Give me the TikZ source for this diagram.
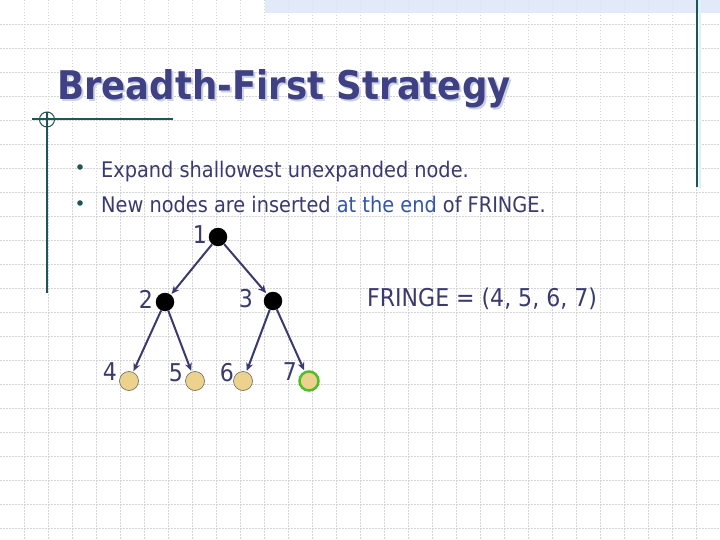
\documentclass[tikz,border=0pt]{standalone}
\usepackage{fontspec}
\setmainfont{DejaVu Sans Condensed}
\usetikzlibrary{arrows.meta}
\definecolor{navy}{RGB}{58,58,110}
\definecolor{titlec}{RGB}{64,64,132}
\definecolor{teal}{RGB}{30,85,85}
\definecolor{bluet}{RGB}{51,85,170}
\definecolor{leaf}{RGB}{236,210,140}
\definecolor{gridc}{RGB}{212,212,212}
\definecolor{band}{RGB}{221,230,248}
\begin{document}
\begin{tikzpicture}[x=1pt,y=-1pt,
  inner/.style={circle,fill=black,inner sep=0pt,minimum size=18.5pt},
  leafn/.style={circle,fill=leaf,draw=black!60,line width=0.6pt,inner sep=0pt,minimum size=19pt},
  goal/.style={leafn,draw={rgb,255:red,80;green,190;blue,40},line width=2.5pt},
  edge/.style={draw=navy,line width=2pt,-{Stealth[length=8pt,width=7pt]},shorten >=1pt},
  num/.style={text=navy,font=\fontsize{24.5}{28}\selectfont,inner sep=0pt},
  body/.style={text=navy,font=\fontsize{21.5}{25}\selectfont,inner sep=0pt,anchor=base west}]
\useasboundingbox (0,0) rectangle (720,540);
\fill[white] (0,0) rectangle (720,540);
% grid
\foreach \i in {1,...,29} {\draw[gridc,line width=0.8pt,dash pattern=on 1.5pt off 1.5pt] (24*\i,0) -- (24*\i,540);}
\foreach \j in {1,...,22} {\draw[gridc,line width=0.8pt,dash pattern=on 1.5pt off 1.5pt] (0,24*\j) -- (720,24*\j);}
% top band
\fill[band,opacity=0.85] (265,0) rectangle (720,13);
% right vertical line
\draw[cyan!15,line width=2pt] (699.5,0) -- (699.5,188);
\draw[teal,line width=1.6pt] (697,0) -- (697,187);
% left decoration
\draw[teal,line width=1.3pt] (47,112) -- (47,293);
\draw[teal,line width=1.3pt] (32,119) -- (173,119);
\draw[teal,line width=1pt] (47,119.5) circle (7.5);
% title
\node[anchor=base west,inner sep=0pt,text=band!80!gray,font=\fontsize{39.5}{43}\selectfont\bfseries] at (59,101.5) {Breadth-First Strategy};
\node (title) [anchor=base west,inner sep=0pt,text=titlec,font=\fontsize{39.5}{43}\selectfont\bfseries] at (57,99.5) {Breadth-First Strategy};
% bullets
\fill[teal] (80,167) circle (2.8);
\fill[teal] (80,203) circle (2.8);
\node (b1) [body] at (101,178) {Expand shallowest unexpanded node.};
\node (b2) [body] at (101,213) {New nodes are inserted \textcolor{bluet}{at the end} of FRINGE.};
% tree
\node (n1) [inner] at (218,237) {};
\node (n2) [inner] at (165,302) {};
\node (n3) [inner] at (273,301) {};
\node (n4) [leafn] at (129,381) {};
\node (n5) [leafn] at (195,381) {};
\node (n6) [leafn] at (243,381) {};
\node (n7) [goal] at (309,381) {};
\node (l1) [num] at (200,235) {1};
\node (l2) [num] at (146,299) {2};
\node (l3) [num] at (246,299) {3};
\node (l4) [num] at (110,372) {4};
\node (l5) [num] at (176,373) {5};
\node (l6) [num] at (227,373) {6};
\node (l7) [num] at (290,372) {7};
\draw[edge] (n1) -- (n2);
\draw[edge] (n1) -- (n3);
\draw[edge] (n2) -- (n4);
\draw[edge] (n2) -- (n5);
\draw[edge] (n3) -- (n6);
\draw[edge] (n3) -- (n7);
\node (fringe) [body,font=\fontsize{24.5}{28}\selectfont] at (367,306) {FRINGE = (4, 5, 6, 7)};
\end{tikzpicture}
\end{document}
